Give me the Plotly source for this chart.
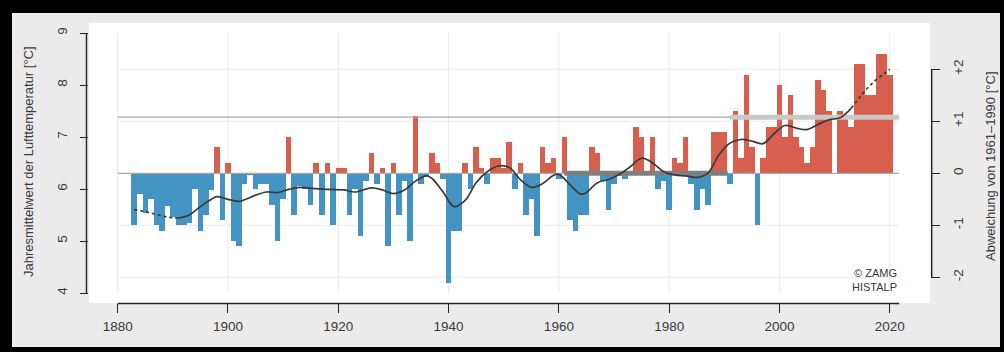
import plotly.graph_objects as go

# ---------------- data ----------------
years = list(range(1883, 2021))
anomaly = [
    -1.00, -0.40, -0.77, -0.50, -1.00, -1.10, -0.62, -0.83, -1.00, -1.00,   # 1883-1892
    -0.95, -0.30, -1.10, -0.80, -0.31, 0.50, -0.90, 0.20, -1.30, -1.40,      # 1893-1902
    -0.20, -0.03, -0.30, -0.20, -0.20, -0.60, -1.30, -0.50, 0.70, -0.80,     # 1903-1912
    -0.25, -0.30, -0.60, 0.20, -0.80, 0.20, -1.00, 0.10, 0.10, -0.80,        # 1913-1922
    -0.30, -1.20, -0.15, 0.40, -0.20, 0.10, -1.40, 0.20, -0.80, -0.15,       # 1923-1932
    -1.30, 1.10, -0.20, -0.05, 0.40, 0.20, -0.10, -2.10, -1.10, -1.10,       # 1933-1942
    0.20, -0.30, 0.50, 0.10, -0.20, 0.30, 0.30, 0.10, 0.60, -0.30,           # 1943-1952
    0.20, -0.80, -0.50, -1.20, 0.50, 0.20, 0.30, -0.10, 0.70, -0.90,         # 1953-1962
    -1.10, -0.80, -0.80, 0.50, 0.40, -0.15, -0.70, -0.20, -0.05, -0.10,      # 1963-1972
    0.05, 0.90, 0.70, 0.05, 0.70, -0.30, -0.15, -0.70, 0.30, 0.20,           # 1973-1982
    0.70, -0.20, -0.70, -0.30, -0.60, 0.80, 0.80, 0.80, -0.20, 1.20,         # 1983-1992
    0.30, 1.90, 0.50, -1.00, 0.30, 0.90, 0.90, 1.70, 0.70, 1.50,             # 1993-2002
    0.70, 0.50, 0.20, 0.50, 1.80, 1.60, 1.20, 0.00, 1.20, 1.10,              # 2003-2012
    0.90, 2.10, 2.10, 1.50, 1.50, 2.30, 2.30, 1.90,                          # 2013-2020
]
baseline_temp = 6.3  # 1961-1990 mean [°C]

smooth_years = [1883, 1885, 1887, 1889, 1891, 1893, 1895, 1897, 1898, 1900,
                1902, 1903, 1905, 1907, 1909, 1911, 1913, 1915, 1918, 1921,
                1923, 1926, 1928, 1930, 1932, 1934, 1936, 1937, 1939, 1941,
                1943, 1945, 1947, 1949, 1951, 1953, 1955, 1957, 1959, 1960,
                1962, 1964, 1965, 1967, 1969, 1971, 1973, 1975, 1977, 1979,
                1981, 1983, 1985, 1987, 1989, 1991, 1993, 1995, 1997, 1999,
                2001, 2003, 2005, 2007, 2009, 2011, 2013, 2015, 2017, 2019, 2020]
smooth_vals = [-0.70, -0.74, -0.79, -0.84, -0.86, -0.80, -0.64, -0.50, -0.45, -0.50,
               -0.54, -0.51, -0.42, -0.36, -0.37, -0.31, -0.27, -0.29, -0.31, -0.32,
               -0.36, -0.28, -0.32, -0.39, -0.32, -0.15, -0.05, -0.10, -0.36, -0.64,
               -0.52, -0.18, 0.03, 0.14, 0.11, -0.12, -0.27, -0.20, -0.04, -0.02,
               -0.22, -0.40, -0.37, -0.18, -0.12, -0.02, 0.13, 0.29, 0.20, 0.03,
               -0.03, -0.05, -0.08, 0.00, 0.35, 0.58, 0.65, 0.62, 0.57, 0.76,
               0.92, 0.87, 0.84, 0.94, 1.03, 1.07, 1.25, 1.52, 1.75, 1.92, 2.00]
smooth_solid_from = 1891
smooth_solid_to = 2013

period_start = [1961, 1991]
period_end = [1990, 2020]
period_mean = [0.00, 1.08]

x_ticks = [1880, 1900, 1920, 1940, 1960, 1980, 2000, 2020]
temp_ticks = [4, 5, 6, 7, 8, 9]
anom_ticks = [-2, -1, 0, 1, 2]
anom_labels = ["-2", "-1", "0", "+1", "+2"]
grid_anom = [-2, -1, 1, 2]

# ---------------- layout geometry (pixels) ----------------
W, H = 1004, 352
L, R, T, B = 89, 930, 23, 303
x_range = [1874.80, 2027.29]
y_range = [3.8077, 9.1923]
y2_range = [y_range[0] - 6.302, y_range[1] - 6.302]
x_line_end = 2021.7


def xp(px):
    return (px - L) / (R - L)


def yp(py):
    return (B - py) / (B - T)


RED = "#d6604d"
BLUE = "#4393c3"
FONT = "Liberation Sans, Arial, sans-serif"
TXT = "#3a3a3a"
AX = "#222222"

fig = go.Figure()

# bars
fig.add_trace(go.Bar(
    x=years, y=anomaly, base=baseline_temp, width=1.0,
    marker=dict(color=[RED if v >= 0 else BLUE for v in anomaly], line=dict(width=0)),
    yaxis="y", showlegend=False, hoverinfo="x+y",
))

# thin reference lines (1961-1990 mean = 0 and 1991-2020 mean)
for m in period_mean:
    fig.add_trace(go.Scatter(
        x=[x_ticks[0], x_line_end], y=[m, m], mode="lines",
        line=dict(color="#a9a9a9", width=1.2), yaxis="y2", showlegend=False,
        hoverinfo="skip",
    ))

# thick 30-year mean segments
period_colors = ["#7f7f7f", "#c9c9c9"]
for s, e, m, c in zip(period_start, period_end, period_mean, period_colors):
    fig.add_trace(go.Scatter(
        x=[s, e + 0.6 if s < 1990 else x_line_end], y=[m, m], mode="lines",
        line=dict(color=c, width=5), yaxis="y2", showlegend=False, hoverinfo="skip",
    ))

# smoothed curve: dotted at both ends, solid in between
def subset(cond):
    xs = [yy for yy, v in zip(smooth_years, smooth_vals) if cond(yy)]
    vs = [v for yy, v in zip(smooth_years, smooth_vals) if cond(yy)]
    return xs, vs

for cond, dash in [
    (lambda yy: yy <= smooth_solid_from, "dot"),
    (lambda yy: smooth_solid_from <= yy <= smooth_solid_to, "solid"),
    (lambda yy: yy >= smooth_solid_to, "dot"),
]:
    xs, vs = subset(cond)
    fig.add_trace(go.Scatter(
        x=xs, y=vs, mode="lines", line=dict(color="#3a3a3a", width=1.7, dash=dash, shape="spline"),
        yaxis="y2", showlegend=False, hoverinfo="skip",
    ))

shapes = []
# black frame around the figure
for x0, x1, y0, y1 in [(-10, 12, 362, -10), (1000, 1014, 362, -10),
                       (-10, 1014, 13, -10), (-10, 1014, 362, 347)]:
    shapes.append(dict(type="rect", xref="paper", yref="paper",
                       x0=xp(x0), x1=xp(x1), y0=yp(y0), y1=yp(y1),
                       fillcolor="black", line=dict(width=0), layer="below"))
# grid lines (span only the tick box)
for xv in x_ticks:
    shapes.append(dict(type="line", xref="x", yref="y", x0=xv, x1=xv,
                       y0=temp_ticks[0], y1=temp_ticks[-1],
                       line=dict(color="#ebebeb", width=1), layer="below"))
for gv in grid_anom:
    shapes.append(dict(type="line", xref="x", yref="y2", x0=x_ticks[0], x1=x_line_end,
                       y0=gv, y1=gv, line=dict(color="#ebebeb", width=1), layer="below"))
# axis lines spanning the tick range
shapes.append(dict(type="line", xref="x", yref="paper", x0=x_ticks[0], x1=x_line_end,
                   y0=-0.002, y1=-0.002, line=dict(color=AX, width=1.4), layer="above"))
shapes.append(dict(type="line", xref="paper", yref="y", x0=-0.003, x1=-0.003,
                   y0=temp_ticks[0], y1=temp_ticks[-1], line=dict(color=AX, width=1.4), layer="above"))
shapes.append(dict(type="line", xref="paper", yref="y2", x0=1.002, x1=1.002,
                   y0=anom_ticks[0], y1=anom_ticks[-1], line=dict(color=AX, width=1.4), layer="above"))

annotations = [
    dict(text="Jahresmittelwert der Lufttemperatur [°C]", xref="paper", yref="paper",
         x=xp(28), y=yp(162), textangle=-90, showarrow=False,
         font=dict(family=FONT, size=13, color=TXT), xanchor="center", yanchor="middle"),
    dict(text="Abweichung von 1961–1990 [°C]", xref="paper", yref="paper",
         x=xp(990), y=yp(166), textangle=-90, showarrow=False,
         font=dict(family=FONT, size=13, color=TXT), xanchor="center", yanchor="middle"),
    dict(text="© ZAMG<br>HISTALP", xref="paper", yref="paper",
         x=xp(899), y=yp(295), showarrow=False, align="right",
         font=dict(family=FONT, size=11, color=TXT), xanchor="right", yanchor="bottom"),
]

fig.update_layout(
    width=W, height=H,
    margin=dict(l=L, r=W - R, t=T, b=H - B, pad=0),
    paper_bgcolor="#ebebeb", plot_bgcolor="white",
    bargap=0, showlegend=False,
    font=dict(family=FONT, size=13, color=TXT),
    xaxis=dict(range=x_range, tickvals=x_ticks, ticks="outside", ticklen=9, tickwidth=1.4,
               tickcolor=AX, showgrid=False, zeroline=False, showline=False,
               ticklabelstandoff=2, tickfont=dict(size=13.5, color=TXT)),
    yaxis=dict(range=y_range, tickvals=temp_ticks, ticks="outside", ticklen=8, tickwidth=1.4,
               tickcolor=AX, showgrid=False, zeroline=False, showline=False, tickangle=-90,
               ticklabelstandoff=8, tickfont=dict(size=13.5, color=TXT)),
    yaxis2=dict(range=y2_range, tickvals=anom_ticks, ticktext=anom_labels, overlaying="y",
                side="right", ticks="outside", ticklen=9, tickwidth=1.4, tickcolor=AX,
                showgrid=False, zeroline=False, showline=False, tickangle=-90,
                ticklabelstandoff=7, tickfont=dict(size=13.5, color=TXT)),
    shapes=shapes, annotations=annotations,
)

fig.write_html("out.html", config={"displayModeBar": False},
               post_script="document.body.style.margin='0px';document.body.style.overflow='hidden';")
